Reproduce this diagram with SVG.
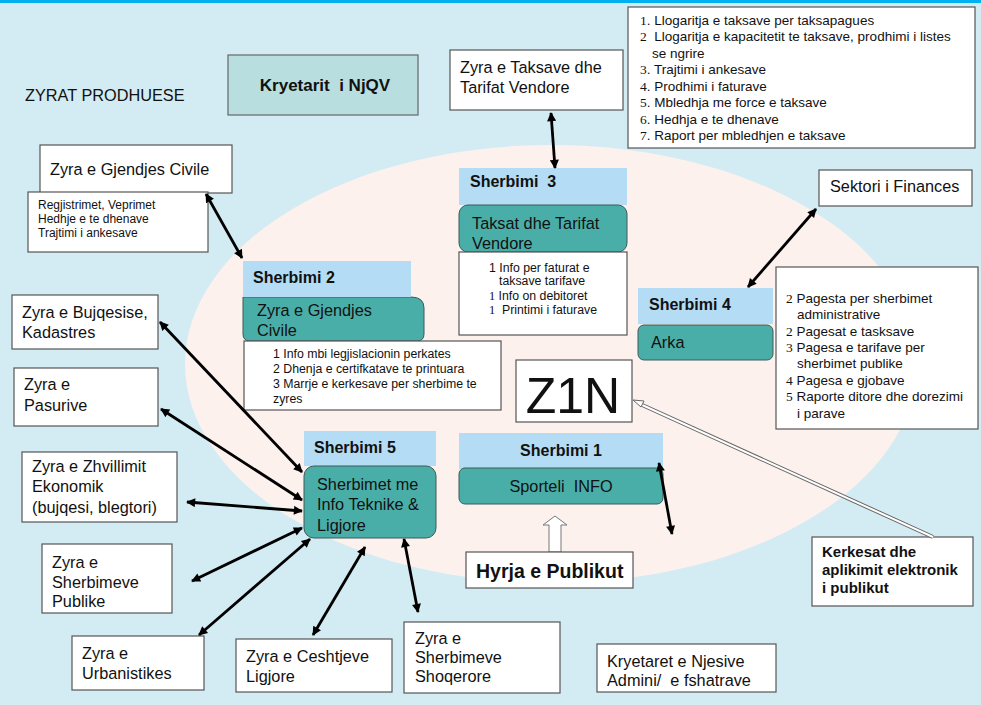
<svg xmlns="http://www.w3.org/2000/svg" width="981" height="705" viewBox="0 0 981 705">
  <defs>
    <marker id="head" viewBox="0 0 10 10" refX="9" refY="5" markerWidth="11" markerHeight="9" markerUnits="userSpaceOnUse" orient="auto-start-reverse">
      <path d="M0,0 L10,5 L0,10 z" fill="#000"/>
    </marker>
    <style>
      text { font-family: "Liberation Sans", Arial, sans-serif; fill: #111; white-space: pre; }
      .box { fill: #fff; stroke: #555; stroke-width: 1.2; }
      .lbl { fill: #b4dcf4; }
      .teal { fill: #4aaea8; stroke: #3c5a58; stroke-width: 1; }
      .t15 { font-size: 16.3px; }
      .t12 { font-size: 12.3px; }
      .t13 { font-size: 13.5px; }
      .lst { font-size: 13.5px; }
      .hd { font-size: 16px; font-weight: bold; }
      .b { font-weight: bold; }
      .num { font-family: "Liberation Serif", "Times New Roman", serif; }
      .link { fill: none; stroke: #000; stroke-width: 2.8; marker-start: url(#head); marker-end: url(#head); }
    </style>
  </defs>

  <!-- background and central zone -->
  <rect x="0" y="0" width="981" height="705" fill="#d3ecf3"/>
  <rect x="0" y="0" width="981" height="3" fill="#00b0f0"/>
  <ellipse cx="551" cy="364" rx="366" ry="219" fill="#fdf1ee"/>

  <text x="25" y="101" class="t15">ZYRAT PRODHUESE</text>

  <g id="kryetarit">
    <rect x="228" y="55" width="190" height="60" fill="#b8dee0" stroke="#666" stroke-width="1.2"/>
    <text x="325" y="91" font-size="17" class="b" text-anchor="middle" xml:space="preserve">Kryetarit  i NjQV</text>
  </g>

  <g id="zyra-taksave">
    <rect x="450" y="50" width="173" height="60" class="box"/>
    <text x="460" y="73" class="t15">Zyra e Taksave dhe</text>
    <text x="460" y="93" class="t15">Tarifat Vendore</text>
  </g>

  <g id="lista-taksave">
    <rect x="628" y="7" width="347" height="141" class="box"/>
    <text x="640" y="25" class="lst"><tspan class="num">1</tspan>. Llogaritja e taksave per taksapagues</text>
    <text x="640" y="41" class="lst"><tspan class="num">2</tspan>  Llogaritja e kapacitetit te taksave, prodhimi i listes</text>
    <text x="652" y="58" class="lst">se ngrire</text>
    <text x="640" y="74" class="lst"><tspan class="num">3</tspan>. Trajtimi i ankesave</text>
    <text x="640" y="91" class="lst"><tspan class="num">4</tspan>. Prodhimi i faturave</text>
    <text x="640" y="107" class="lst"><tspan class="num">5</tspan>. Mbledhja me force e taksave</text>
    <text x="640" y="124" class="lst"><tspan class="num">6</tspan>. Hedhja e te dhenave</text>
    <text x="640" y="140" class="lst"><tspan class="num">7</tspan>. Raport per mbledhjen e taksave</text>
  </g>

  <g id="zyra-gjendjes">
    <rect x="40" y="145" width="192" height="48" class="box"/>
    <text x="50" y="175" class="t15">Zyra e Gjendjes Civile</text>
    <rect x="28" y="192" width="180" height="60" class="box"/>
    <text x="38" y="209" font-size="12">Regjistrimet, Veprimet</text>
    <text x="38" y="223" font-size="12">Hedhje e te dhenave</text>
    <text x="38" y="237" font-size="12">Trajtimi i ankesave</text>
  </g>

  <g id="sherbimi-2">
    <rect x="243" y="261" width="168" height="36" class="lbl"/>
    <text x="253" y="283" class="hd">Sherbimi 2</text>
    <path d="M243,297 H411 Q424,297 424,308 V334 Q424,341 417,341 H250 Q243,341 243,334 Z" class="teal"/>
    <rect x="243" y="291" width="168" height="6" class="lbl"/>
    <text x="257" y="316" class="t15">Zyra e Gjendjes</text>
    <text x="257" y="336" class="t15">Civile</text>
    <rect x="244" y="341" width="257" height="69" class="box"/>
    <text x="273" y="358" class="t12">1 Info mbi legjislacionin perkates</text>
    <text x="273" y="373" class="t12">2 Dhenja e certifkatave te printuara</text>
    <text x="273" y="388" class="t12">3 Marrje e kerkesave per sherbime te</text>
    <text x="273" y="403" class="t12">zyres</text>
  </g>

  <g id="sherbimi-3">
    <rect x="459" y="168" width="168" height="37" class="lbl"/>
    <text x="470" y="187" class="hd" xml:space="preserve">Sherbimi  3</text>
    <rect x="459" y="205" width="168" height="47" rx="9" class="teal"/>
    <text x="472" y="229" class="t15">Taksat dhe Tarifat</text>
    <text x="472" y="249" class="t15">Vendore</text>
    <rect x="459" y="252" width="168" height="83" class="box"/>
    <text x="489" y="272" class="t12">1 Info per faturat e</text>
    <text x="499" y="285" class="t12">taksave tarifave</text>
    <text x="489" y="300" class="t12"><tspan class="num">1</tspan> Info on debitoret</text>
    <text x="489" y="314" class="t12" xml:space="preserve"><tspan class="num">1</tspan>  Printimi i faturave</text>
  </g>

  <g id="sektori-finances">
    <rect x="819" y="170" width="153" height="36" class="box"/>
    <text x="830" y="192" class="t15">Sektori i Finances</text>
  </g>

  <g id="sherbimi-4">
    <rect x="638" y="288" width="135" height="36" class="lbl"/>
    <text x="649" y="310" class="hd">Sherbimi 4</text>
    <rect x="638" y="325" width="135" height="35" rx="6" class="teal"/>
    <text x="651" y="348" class="t15">Arka</text>
    <rect x="776" y="267" width="202" height="162" class="box"/>
    <text x="786" y="303" class="t13"><tspan class="num">2</tspan> Pagesta per sherbimet</text>
    <text x="797" y="319" class="t13">administrative</text>
    <text x="786" y="336" class="t13"><tspan class="num">2</tspan> Pagesat e tasksave</text>
    <text x="786" y="352" class="t13"><tspan class="num">3</tspan> Pagesa e tarifave per</text>
    <text x="797" y="368" class="t13">sherbimet publike</text>
    <text x="786" y="385" class="t13"><tspan class="num">4</tspan> Pagesa e gjobave</text>
    <text x="786" y="401" class="t13"><tspan class="num">5</tspan> Raporte ditore dhe dorezimi</text>
    <text x="797" y="418" class="t13">i parave</text>
  </g>

  <g id="z1n">
    <rect x="516" y="360" width="116" height="62" class="box"/>
    <text x="573" y="413" font-size="50" text-anchor="middle">Z1N</text>
  </g>

  <g id="sherbimi-1">
    <rect x="459" y="433" width="204" height="36" class="lbl"/>
    <text x="561" y="456" class="hd" text-anchor="middle">Sherbimi 1</text>
    <rect x="459" y="468" width="204" height="36" rx="6" class="teal"/>
    <text x="561" y="492" class="t15" text-anchor="middle" xml:space="preserve">Sporteli  INFO</text>
  </g>

  <g id="hyrja-publikut">
    <polygon points="549,552 549,525 543,525 555,516 567,525 561,525 561,552" fill="#fff" stroke="#777" stroke-width="1"/>
    <rect x="466" y="552" width="167" height="36" class="box"/>
    <text x="476" y="578" font-size="19.5" class="b">Hyrja e Publikut</text>
  </g>

  <g id="kerkesat">
    <rect x="812" y="537" width="161" height="69" class="box"/>
    <text x="822" y="557" font-size="15" class="b">Kerkesat dhe</text>
    <text x="822" y="575" font-size="15" class="b">aplikimit elektronik</text>
    <text x="822" y="593" font-size="15" class="b">i publikut</text>
  </g>

  <g id="kryetaret-njesive">
    <rect x="597" y="644" width="179" height="48" class="box"/>
    <text x="607" y="667" class="t15">Kryetaret e Njesive</text>
    <text x="607" y="686" class="t15" xml:space="preserve">Admini/  e fshatrave</text>
  </g>

  <g id="sherbimi-5">
    <rect x="304" y="431" width="132" height="35" class="lbl"/>
    <text x="314" y="453" class="hd">Sherbimi 5</text>
    <rect x="304" y="466" width="132" height="72" rx="10" class="teal"/>
    <text x="317" y="490" class="t15">Sherbimet me</text>
    <text x="317" y="510" class="t15">Info Teknike &amp;</text>
    <text x="317" y="531" class="t15">Ligjore</text>
  </g>

  <g id="zyra-bujqesise">
    <rect x="12" y="295" width="146" height="54" class="box"/>
    <text x="22" y="318" class="t15">Zyra e Bujqesise,</text>
    <text x="22" y="338" class="t15">Kadastres</text>
  </g>

  <g id="zyra-pasurive">
    <rect x="14" y="368" width="144" height="58" class="box"/>
    <text x="24" y="390" class="t15">Zyra e</text>
    <text x="24" y="411" class="t15">Pasurive</text>
  </g>

  <g id="zyra-zhvillimit">
    <rect x="22" y="452" width="155" height="70" class="box"/>
    <text x="32" y="472" class="t15">Zyra e Zhvillimit</text>
    <text x="32" y="492" class="t15">Ekonomik</text>
    <text x="32" y="513" class="t15">(bujqesi, blegtori)</text>
  </g>

  <g id="zyra-sherbimeve-publike">
    <rect x="42" y="544" width="130" height="69" class="box"/>
    <text x="52" y="568" class="t15">Zyra e</text>
    <text x="52" y="588" class="t15">Sherbimeve</text>
    <text x="52" y="607" class="t15">Publike</text>
  </g>

  <g id="zyra-urbanistikes">
    <rect x="72" y="636" width="132" height="54" class="box"/>
    <text x="82" y="659" class="t15">Zyra e</text>
    <text x="82" y="679" class="t15">Urbanistikes</text>
  </g>

  <g id="zyra-ceshtjeve">
    <rect x="236" y="639" width="156" height="53" class="box"/>
    <text x="246" y="662" class="t15">Zyra e Ceshtjeve</text>
    <text x="246" y="682" class="t15">Ligjore</text>
  </g>

  <g id="zyra-shoqerore">
    <rect x="404" y="622" width="156" height="71" class="box"/>
    <text x="415" y="644" class="t15">Zyra e</text>
    <text x="415" y="663" class="t15">Sherbimeve</text>
    <text x="415" y="682" class="t15">Shoqerore</text>
  </g>

  <!-- connectors -->
  <g id="connectors">
    <line x1="206" y1="194" x2="242" y2="258" class="link"/>
    <line x1="551" y1="113" x2="555" y2="168" class="link"/>
    <line x1="816" y1="209" x2="748" y2="287" class="link"/>
    <line x1="659" y1="463" x2="672" y2="534" class="link"/>
    <line x1="160" y1="322" x2="302" y2="472" class="link"/>
    <line x1="161" y1="409" x2="302" y2="500" class="link"/>
    <line x1="187" y1="502" x2="302" y2="511" class="link"/>
    <line x1="192" y1="581" x2="302" y2="528" class="link"/>
    <line x1="199" y1="635" x2="310" y2="539" class="link"/>
    <line x1="365" y1="547" x2="313" y2="635" class="link"/>
    <line x1="404" y1="539" x2="418" y2="612" class="link"/>
    <!-- double-line arrow toward Z1N -->
    <line x1="933" y1="537" x2="640" y2="404" stroke="#666" stroke-width="4"/>
    <line x1="933" y1="537" x2="640" y2="404" stroke="#fff" stroke-width="2"/>
    <polygon points="633,400 644,401 641,407" fill="#fff" stroke="#666" stroke-width="1"/>
  </g>
</svg>
